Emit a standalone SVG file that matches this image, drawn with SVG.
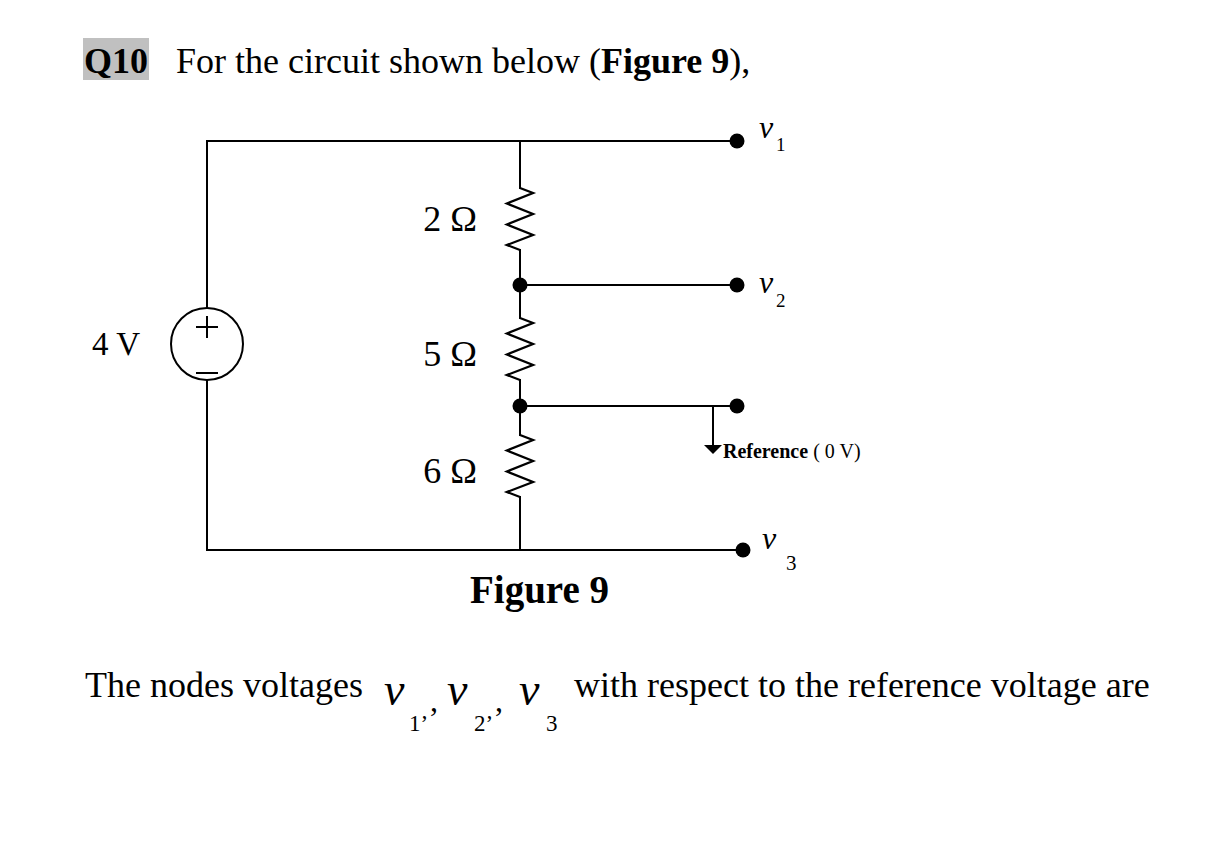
<svg xmlns="http://www.w3.org/2000/svg" width="1226" height="866" viewBox="0 0 1226 866">
<style>
.w{fill:none;stroke:#000;stroke-width:2;stroke-linecap:square}
.z{fill:none;stroke:#000;stroke-width:2.3;stroke-linejoin:miter}
.dot{fill:#000}
.t{font-family:"Liberation Serif","Times New Roman",serif;fill:#000}
.lbl{font-size:36px}
.iv{font-style:italic}
.b{font-weight:bold}
</style>
<rect width="1226" height="866" fill="#fff"/>
<g id="header">
<rect x="83" y="38" width="66" height="42" fill="#c0c0c0"/>
<text class="t b" x="84" y="73" font-size="36">Q10</text>
<text class="t" x="176" y="73" font-size="36">For the circuit shown below (<tspan class="b">Figure 9</tspan>),</text>
</g>
<g id="connectors">
<polyline class="w" points="207,308 207,141 737,141"/>
<polyline class="w" points="207,380 207,550 743,550"/>
<line class="w" x1="520" y1="141" x2="520" y2="188"/>
<line class="w" x1="520" y1="250" x2="520" y2="318"/>
<line class="w" x1="520" y1="380" x2="520" y2="435"/>
<line class="w" x1="520" y1="497" x2="520" y2="550"/>
<line class="w" x1="520" y1="285" x2="737" y2="285"/>
<line class="w" x1="520" y1="406" x2="737" y2="406"/>
<line class="w" x1="713" y1="406" x2="713" y2="446"/>
</g>
<g id="source">
<circle cx="207" cy="344" r="36" fill="none" stroke="#000" stroke-width="2"/>
<path class="w" d="M197,327H217M207,317V337M197,373H217" stroke-linecap="butt"/>
<text class="t" x="92" y="355" font-size="33">4 V</text>
</g>
<g id="R1">
<polyline class="z" points="520,188 533,193 507,203.5 533,214 507,224.5 533,235 507,245 520,250"/>
<text class="t lbl" x="477" y="231" text-anchor="end">2 Ω</text>
</g>
<g id="R2">
<polyline class="z" points="520,318 533,323 507,333.5 533,344 507,354.5 533,365 507,375 520,380"/>
<text class="t lbl" x="477" y="366" text-anchor="end">5 Ω</text>
</g>
<g id="R3">
<polyline class="z" points="520,435 533,440 507,450.5 533,461 507,471.5 533,482 507,492 520,497"/>
<text class="t lbl" x="477" y="483" text-anchor="end">6 Ω</text>
</g>
<g id="junctions">
<circle class="dot" cx="520" cy="285" r="7.5"/>
<circle class="dot" cx="520" cy="406" r="7.5"/>
</g>
<g id="v1">
<circle class="dot" cx="737" cy="141" r="7.5"/>
<text class="t iv" x="759" y="138" font-size="32">v</text>
<text class="t" x="776" y="151" font-size="19">1</text>
</g>
<g id="v2">
<circle class="dot" cx="737" cy="285" r="7.5"/>
<text class="t iv" x="759" y="293" font-size="32">v</text>
<text class="t" x="776" y="307" font-size="19">2</text>
</g>
<g id="ref">
<circle class="dot" cx="737" cy="406" r="7.5"/>
<polygon points="704,445 722,445 713,454" fill="#000"/>
<text class="t" x="723" y="458" font-size="20"><tspan class="b">Reference</tspan> ( 0 V)</text>
</g>
<g id="v3">
<circle class="dot" cx="743" cy="550" r="7.5"/>
<text class="t iv" x="762" y="549" font-size="32">v</text>
<text class="t" x="786" y="570" font-size="21">3</text>
</g>
<g id="caption">
<text class="t b" x="470" y="603" font-size="39">Figure 9</text>
</g>
<g id="question">
<text class="t" x="85" y="697" font-size="36">The nodes voltages</text>
<text class="t iv" x="384" y="705" font-size="46">v</text>
<text class="t" x="409" y="731" font-size="23">1’</text>
<text class="t" x="430" y="711" font-size="32">,</text>
<text class="t iv" x="447" y="705" font-size="46">v</text>
<text class="t" x="474" y="731" font-size="23">2’</text>
<text class="t" x="495" y="711" font-size="32">,</text>
<text class="t iv" x="519" y="705" font-size="46">v</text>
<text class="t" x="546" y="731" font-size="23">3</text>
<text class="t" x="574" y="697" font-size="36">with respect to the reference voltage are</text>
</g>
</svg>
